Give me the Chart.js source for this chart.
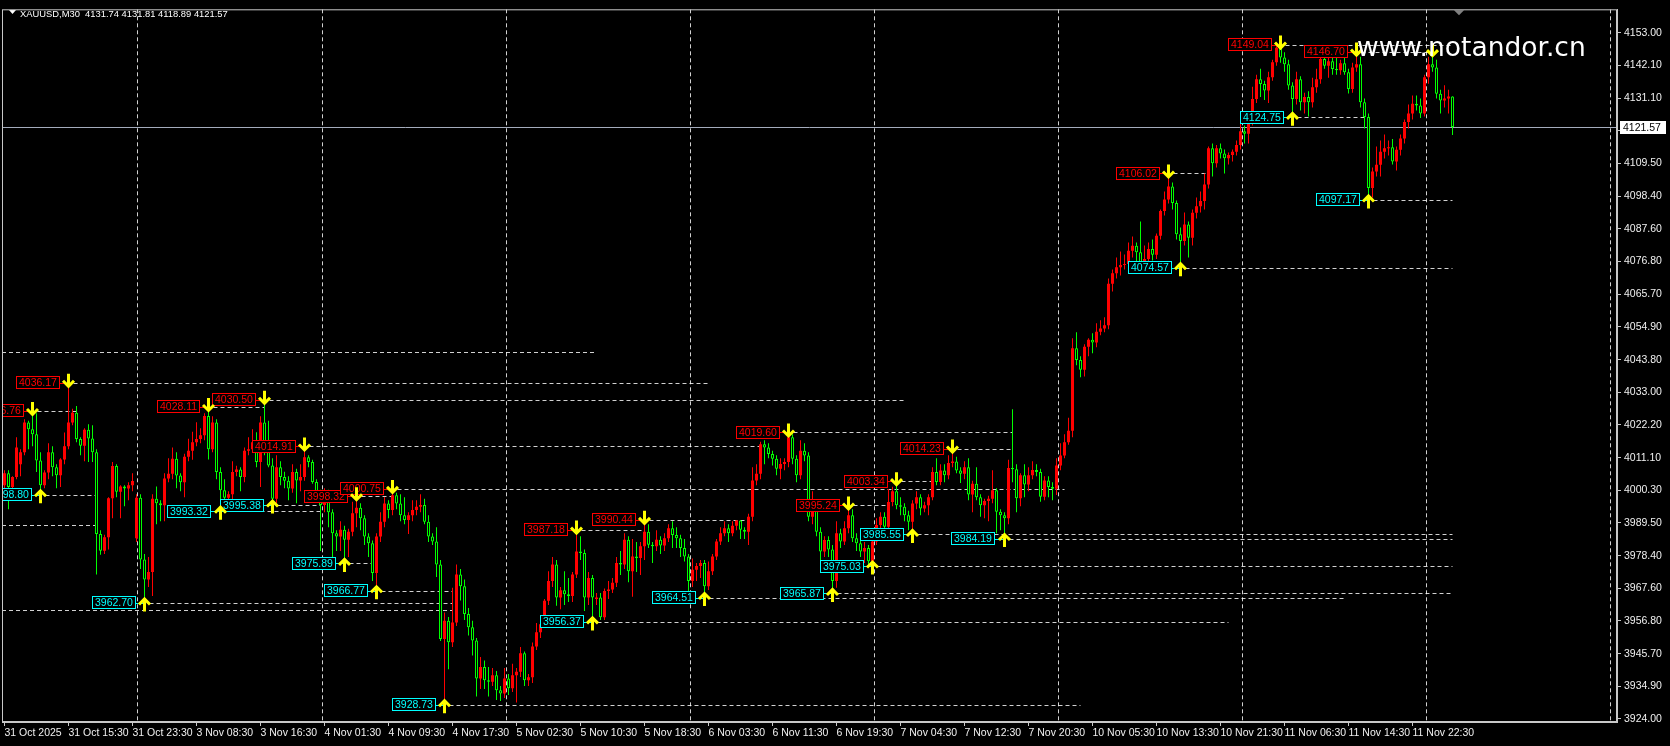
<!DOCTYPE html>
<html>
<head>
<meta charset="UTF-8">
<title>XAUUSD,M30</title>
<script src="https://cdn.jsdelivr.net/npm/chart.js@4.4.1/dist/chart.umd.min.js"></script>
<style>
  html, body { margin: 0; padding: 0; background: #000; overflow: hidden; }
  #wrap { width: 1670px; height: 746px; }
</style>
</head>
<body>
<div id="wrap"><canvas id="chart" width="1670" height="746"></canvas></div>
<script>
// candles [open, high, low, close], one array per trading day (M30)
const oct31 = [
  [4002,4007,3999,4006],[4006,4007,3994,4001.4],[4001.4,4005,3999.8,4004.7],[4004.7,4018,4004,4014.6],
  [4009,4014,4005,4013],[4013,4024,4012,4022.9],[4022.9,4023.5,4014,4020.7],[4020.7,4026.76,4015,4019],
  [4019,4026,4006.4,4010.2],[4010.2,4013,3998.8,4002],[4002,4007,4001,4006.2],[4006.2,4016,4004,4013],
  [4013,4015,4005,4008],[4008,4009,4001,4005.3],[4005.3,4011,4001.4,4010.6],[4010.6,4019.6,4009,4015],
  [4015,4036.17,4014,4022.9],[4022.9,4027.5,4022,4026.2],[4026.2,4028.4,4016.3,4017.4],[4017.4,4018,4012,4015.2],
  [4015.2,4021,4010,4020.5],[4020.5,4022.3,4009.7,4017.6],[4017.6,4022,4009.7,4013],[4013,4014,3972.2,3985.7],
  [3985.7,3987,3978.8,3980.1],[3980.1,3985.5,3979,3984.6],[3984.6,3998,3980.5,3997.6],[3997.6,4009.7,3991,4008.4],
  [4008.4,4009,3998,3999.8],[3999.8,4002,3991,4001.6],[4001.6,4002,3995,4000.9],[4000.9,4003,3997,4002],
  [4002,4006,4000,4003.4]
];
const nov3 = [
  [3984.3,3999,3983,3997.8],[3997.8,3999,3974,3977.2],[3977.2,3979,3962.7,3970.5],[3970.5,3978,3968,3973],
  [3973,3999,3965,3997.5],[3997.5,4001.6,3989,3996],[3996,3997,3990,3995.3],[3995.3,4006,3990,4004.2],
  [4004.2,4011,4003,4005.8],[4005.8,4014.6,4004,4010.8],[4010.8,4013,4001,4005.2],[4005.2,4006,4000,4003],
  [4003,4012.5,3998,4011.5],[4011.5,4017.5,4010,4013.5],[4013.5,4019.8,4010.5,4016.3],[4016.3,4023,4015,4017.4],
  [4017.4,4021,4016,4018.7],[4018.7,4026,4017,4025.1],[4025.1,4028.11,4010.6,4014],[4014,4025,4013,4022.9],
  [4022.9,4024,4004,4006.4],[4006.4,4008,3993.32,4000.3],[4000.3,4004,3996,3997.8],[3997.8,4000,3995,3999],
  [3999,4010,3996,4006.4],[4006.4,4008.5,4005,4007.2],[4007.2,4008,4000,4004.7],[4004.7,4014.6,4003,4013.5],
  [4013.5,4018,4012,4014],[4014,4020.7,4013,4016.3],[4016.3,4019.7,4008,4009.7],[4009.7,4025,4001.4,4022.9],
  [4022.9,4030.5,4012,4015.2],[4015.2,4023.5,4008,4008.6],[4008.6,4011,3995.38,3997.5],[3997.5,4012,3996,4008],
  [4008,4010,4002,4004.7],[4004.7,4006.5,4001,4003.5],[4003.5,4005,3997,4000.9],[4000.9,4009,3999.5,4006.4],
  [4006.4,4007.5,3996,4003.6],[4003.6,4009,4000,4004.7],[4004.7,4014.91,4003.5,4011.3],[4011.3,4012,4008,4009.7],
  [4009.7,4010.5,4002.5,4003.1],[4003.1,4004,3998,3999.8]
];
const nov4 = [
  [3999.8,4000.5,3980,3995.4],[3995.4,4001,3993,3999.8],[3999.8,4000.5,3988,3993],[3993,3994,3978,3986],
  [3986,3987,3980,3984.9],[3984.9,3990,3980,3987.1],[3987.1,3988.5,3975.89,3983.8],[3983.8,3987.5,3978,3986.5],
  [3986.5,3996.5,3985,3992.6],[3992.6,3998.32,3988,3994.5],[3994.5,3996,3987,3991],[3991,3992,3982,3984.9],
  [3984.9,3986,3978,3982.6],[3982.6,3983.5,3970,3972.7],[3972.7,3986,3966.77,3984.9],[3984.9,3993,3983,3989.8],
  [3989.8,3998,3988,3995.9],[3995.9,3997,3991,3993.7],[3993.7,4000.75,3992,3998.6],[3998.6,3999.5,3994,3995.9],
  [3995.9,3999,3990,3992],[3992,3998,3989,3990.4],[3990.4,3993,3985.7,3992],[3992,3997,3990,3993.7],
  [3993.7,3997,3992,3994.8],[3994.8,3999,3993,3995.4],[3995.4,3997.5,3989,3989.8],[3989.8,3992,3983,3984.9],
  [3984.9,3986,3982,3983.2],[3983.2,3988,3971.4,3975.5],[3975.5,3977,3950,3950.7],[3950.7,3959.5,3928.73,3956.8],
  [3956.8,3958,3940.6,3949.6],[3949.6,3967.8,3948,3956.2],[3956.2,3975.5,3955,3972.2],[3972.2,3974,3963.5,3968.3],
  [3968.3,3970.5,3957,3959],[3959,3961,3951.8,3954.6],[3954.6,3956.8,3945.2,3950.2],[3950.2,3951,3931.5,3937.5],
  [3937.5,3944.7,3934,3941.3],[3941.3,3943.5,3934,3936.9],[3936.9,3941.3,3931.5,3936.4],[3936.4,3941,3935,3938.6],
  [3938.6,3940,3930.3,3933.6],[3933.6,3935,3930,3932.5]
];
const nov5 = [
  [3932.5,3941,3931,3937.5],[3937.5,3939,3932,3934.2],[3934.2,3942.4,3933,3938.6],[3938.6,3941,3929.5,3939.7],
  [3939.7,3948,3938,3945.9],[3945.9,3946.5,3935,3936.9],[3936.9,3939,3935,3937.9],[3937.9,3949.5,3936,3948.2],
  [3948.2,3956,3947,3952.9],[3952.9,3957,3951,3955.6],[3955.6,3964,3955,3963.4],[3963.4,3973.3,3962,3970],
  [3970,3978,3968,3975.5],[3975.5,3977,3961.8,3964.5],[3964.5,3968,3960.6,3966.9],[3966.9,3973.3,3962,3965.6],
  [3965.6,3971,3963,3965],[3965,3973,3963,3972.2],[3972.2,3987.18,3971,3979.9],[3979.9,3985,3977,3979.4],
  [3979.4,3980.5,3960,3964.5],[3964.5,3973,3962,3971],[3971,3972,3956.37,3964.5],[3964,3966,3962,3964.5],
  [3964.5,3966,3957,3957.9],[3957.9,3967.5,3957,3966.7],[3966.7,3970,3964,3967.2],[3967.2,3971,3966,3969.4],
  [3969.4,3978,3968,3976],[3976,3980,3972,3975.5],[3975.5,3986,3974,3983.8],[3983.8,3985,3969.6,3973.3],
  [3973.3,3984,3964.8,3978.2],[3978.2,3983,3973,3977.7],[3977.7,3983,3972,3981.6],[3981.6,3990.44,3977,3986.5],
  [3986.5,3989,3981,3982.1],[3982.1,3983,3976,3981.6],[3981.6,3987,3980,3983.8],[3983.8,3985,3979,3981.9],
  [3981.9,3986,3980,3984.3],[3984.3,3989,3983,3987.6],[3987.6,3990,3981,3985.4],[3985.4,3988,3981,3984.3],
  [3984.3,3985.5,3978,3981],[3981,3984,3976.5,3978.2]
];
const nov6 = [
  [3978.2,3979,3966,3970],[3970,3977.5,3968,3973.8],[3973.8,3976,3970,3975],[3975,3977,3971,3976],
  [3976,3977,3964.51,3968.3],[3968.3,3976.5,3967,3973.3],[3973.3,3979,3972,3978.2],[3978.2,3984,3977,3983.2],
  [3983.2,3988,3982,3986],[3986,3990,3985,3987.6],[3987.6,3989,3983,3986],[3986,3990,3985,3988.5],
  [3988.5,3990.3,3987,3990.2],[3990.2,3990.4,3984,3987.1],[3987.1,3988,3984,3986.5],[3986.5,3992.5,3982,3991.5],
  [3991.5,4008,3990,4003.6],[4003.6,4009,4002,4005.8],[4005.8,4016.5,4004,4015.7],[4015.7,4017,4009,4014.6],
  [4014.6,4016,4011,4012.4],[4012.4,4013.5,4008.6,4010.8],[4010.8,4012,4005.3,4007.5],[4007.5,4011,4004,4009.1],
  [4009.1,4011,4007,4009.7],[4009.7,4019.6,4008,4018],[4018,4019,4009,4010.8],[4010.8,4012,4003,4005.3],
  [4005.3,4017,4004,4013.5],[4013.5,4016,4010,4011.9],[4011.9,4013,3990,3991.5],[3991.5,4000,3989,3995.3],
  [3995.3,3996,3985,3986.5],[3986.5,3988,3977,3979.9],[3979.9,3985,3978,3983.7],[3983.7,3985,3978,3980.5],
  [3980.5,3982,3965.87,3970],[3970,3990,3967.8,3986],[3986,3987.5,3981,3983.2],[3983.2,3990,3982,3987.6],
  [3987.6,3995.24,3986,3992],[3992,3994,3983,3984.3],[3984.3,3986,3980,3982.6],[3982.6,3984,3978,3979.9],
  [3979.9,3983,3976,3981],[3981,3982,3975.5,3976.6]
];
const nov7 = [
  [3976.6,3984.5,3975.03,3983.2],[3983.2,3991,3982,3988.7],[3988.7,3993,3987,3991.5],[3991.5,3993,3985,3988.1],
  [3988.1,4000.7,3986,3996.4],[3996.4,4001.5,3995,4000],[4000,4003.34,3994,3995.3],[3995.3,3998,3992,3994.8],
  [3994.8,3996,3990,3992],[3992,3993.5,3987,3989.8],[3989.8,3997,3985.55,3995.9],[3995.9,4000,3994,3998],
  [3998,3999,3992,3994.2],[3994.2,3996.5,3993,3995.3],[3995.3,3999,3992,3998],[3998,4008,3997,4006.4],
  [4006.4,4011,4002,4003.1],[4003.1,4009,4002,4006.9],[4006.9,4009,4003,4005.3],[4005.3,4012,4004,4009.4],
  [4009.4,4014.23,4008,4009.9],[4009.9,4011.5,4006,4006.9],[4006.9,4008,4002.7,4005.8],[4005.8,4010,4004,4008],
  [4008,4011,3997,3998.9],[3998.9,4003.5,3993,4002.5],[4002.5,4008,3997,3998],[3998,3999,3991.5,3995.3],
  [3995.3,3997.5,3991,3996.7],[3996.7,3998.5,3990,3997.5],[3997.5,4007,3996,4000.3],[4000.3,4001,3986,3993.1],
  [3993.1,3994,3987,3992],[3992,3993,3984.19,3991],[3991,4010.5,3989,4007.7],[4007.7,4027.3,4003,4007.3],
  [4007.3,4009,3993,3997.6],[3997.6,4006,3995,4005.3],[4005.3,4009,3998,4002.2],[4002.2,4008,4000,4005.3],
  [4005.3,4010,4004,4007.1],[4007.1,4009,4005,4006.4],[4006.4,4007.5,3996.5,3998.1],[3998.1,4005,3997,4003.6],
  [4003.6,4005,3998,4001.4],[4001.4,4003,3997,4000.8]
];
const nov10 = [
  [4000.8,4011,3998.7,4008.6],[4008.6,4016,4007,4011.9],[4011.9,4019,4011,4016.3],[4016.3,4024.5,4015.5,4020.2],
  [4020.2,4051,4018,4047.7],[4047.7,4053,4042,4043.8],[4043.8,4045,4038,4040.5],[4040.5,4049,4038.3,4048.2],
  [4048.2,4051,4045,4050.5],[4050.5,4052.7,4046,4049.6],[4049.6,4056,4048,4053.2],[4053.2,4057,4052,4054.3],
  [4054.3,4058,4053,4055.4],[4055.4,4071,4054,4069.2],[4069.2,4074,4066.6,4072.7],[4072.7,4078,4071,4074.7],
  [4074.7,4080,4072,4075.5],[4075.5,4079,4074,4075.8],[4075.8,4083,4074.6,4080.2],[4080.2,4085,4078,4081.9],
  [4081.9,4083,4075,4079.7],[4079.7,4090,4075,4076.4],[4076.4,4082,4075,4077.5],[4077.5,4083,4076,4080.8],
  [4080.8,4084,4077,4078.9],[4078.9,4086,4077.5,4085.2],[4085.2,4094,4084,4093.5],[4093.5,4100,4092,4097.3],
  [4097.3,4106.02,4096,4101.7],[4101.7,4103,4094,4096.2],[4096.2,4097,4084,4085.7],[4085.7,4088,4074.57,4083.5],
  [4083.5,4093,4082,4089],[4089,4090,4078,4084.6],[4084.6,4094,4082,4092.9],[4092.9,4098,4091,4095.1],
  [4095.1,4100,4093,4096.8],[4096.8,4106,4094,4102.3],[4102.3,4115,4101,4114.4],[4114.4,4116,4105,4109.4],
  [4109.4,4115.5,4108,4114.4],[4114.4,4116,4111,4112.7],[4112.7,4114,4106,4111.1],[4111.1,4113,4109,4112.2],
  [4112.2,4114,4110,4113.3],[4113.3,4117,4112,4115.5]
];
const nov11 = [
  [4115.5,4122.7,4114,4120.1],[4120.1,4122,4116,4119.3],[4119.3,4124,4116,4123.2],[4123.2,4135,4122,4130.9],
  [4130.9,4139,4129.5,4137.5],[4137.5,4141,4131.5,4135.9],[4135.9,4137,4130.5,4133.7],[4133.7,4140,4129.5,4138.1],
  [4138.1,4144,4137,4143.1],[4143.1,4148.5,4142,4148],[4148,4149.04,4143,4144.7],[4144.7,4146.5,4140,4142.5],
  [4142.5,4144,4134,4135.4],[4135.4,4136.5,4124.75,4130.9],[4130.9,4140,4129,4137.5],[4137.5,4138.5,4127,4129.8],
  [4129.8,4133,4126,4131.5],[4131.5,4133.5,4125,4129.8],[4129.8,4138,4128,4134.8],[4134.8,4141,4133,4137.5],
  [4137.5,4146,4136,4144.2],[4144.2,4146,4141,4142],[4142,4145,4138,4143.5],[4143.5,4145.5,4139,4140.9],
  [4140.9,4145,4139,4140.5],[4140.5,4144,4139,4142.8],[4142.8,4146,4139,4139.8],[4139.8,4141,4132.7,4134.2],
  [4134.2,4143,4133,4141.4],[4141.4,4146.7,4140,4142.5],[4142.5,4145,4128,4129.8],[4129.8,4131,4121,4124.9],
  [4124.9,4126,4097.17,4101.2],[4101.2,4108,4098,4106.7],[4106.7,4115,4105,4108.9],[4108.9,4117,4105,4113.3],
  [4113.3,4119,4111,4114.4],[4114.4,4117,4112,4114.8],[4114.8,4117.5,4109,4110],[4110,4115,4107,4113.9],
  [4113.9,4119,4112,4117.7],[4117.7,4124,4116,4123.2],[4123.2,4129,4121,4126],[4126,4132,4124,4129.3],
  [4129.3,4132,4127,4128.7],[4128.7,4131,4124.5,4126]
];
const nov12 = [
  [4126,4139,4125,4138.1],[4138.1,4145,4136,4142.5],[4142.5,4146.5,4140,4141.4],[4141.4,4144,4131,4132.6],
  [4132.6,4134,4126,4130.4],[4130.4,4135.5,4128,4131],[4131,4134,4126,4131.74],[4131.74,4131.81,4118.89,4121.57]
];

// time axis labels (every 16 bars) and price axis labels
const labelBars = [0,16,32,48,64,80,96,112,128,144,160,176,192,208,224,240,256,272,288,304,320,336,352];
const timeLabels = ['31 Oct 2025','31 Oct 15:30','31 Oct 23:30','3 Nov 08:30','3 Nov 16:30','4 Nov 01:30',
  '4 Nov 09:30','4 Nov 17:30','5 Nov 02:30','5 Nov 10:30','5 Nov 18:30','6 Nov 03:30','6 Nov 11:30',
  '6 Nov 19:30','7 Nov 04:30','7 Nov 12:30','7 Nov 20:30','10 Nov 05:30','10 Nov 13:30','10 Nov 21:30',
  '11 Nov 06:30','11 Nov 14:30','11 Nov 22:30'];
const priceTicks = [4153.00,4142.10,4131.10,4120.30,4109.50,4098.40,4087.60,4076.80,4065.70,4054.90,4043.80,
  4033.00,4022.20,4011.10,4000.30,3989.50,3978.40,3967.60,3956.80,3945.70,3934.90,3924.00];
const gridBars = [33.2,79.3,125.3,171.3,217.3,263.3,309.3,355.3,401.4];

// swing highs / lows found by the indicator, with the bar where each level line stops
const highBars = [7,16,51,65,75,88,97,143,160,196,211,223,237,291,319,338];
const highVals = [4026.76,4036.17,4028.11,4030.50,4014.91,3998.32,4000.75,3987.18,3990.44,4019.60,3995.24,4003.34,4014.23,4106.02,4149.04,4146.70];
const highEnds = [18,176,65,225,190,97,265,160,186,252,221,232,252,301,362,356];
const lowBars = [9,35,54,67,85,93,110,147,175,207,217,227,250,294,322,341];
const lowVals = [3998.80,3962.70,3993.32,3995.38,3975.89,3966.77,3928.73,3956.37,3964.51,3965.87,3975.03,3985.55,3984.19,4074.57,4124.75,4097.17];
const lowEnds = [23,112,79,79,92,112,269,306,335,362,362,362,362,362,340,362];
const openHighBar = 357, openHighVal = 4146.5;          // last arrow, no tag
const oldLevelVals = [4046.4,3988.7,3960.2];            // lines from swings left of the window
const oldLevelEnds = [148,23,112];
const lastPrice = 4121.57;
const header = 'XAUUSD,M30  4131.74 4131.81 4118.89 4121.57';

const candles = [].concat(oct31, nov3, nov4, nov5, nov6, nov7, nov10, nov11, nov12);
const up = candles.map(c => c[3] >= c[0]);

const RED = '#ff0000', GREEN = '#00ff00', CYAN = '#00ffff', YELLOW = '#ffff00';
const FRAME = '#c8c8c8', TEXT = '#f0f0f0', DASH = 'rgba(255,255,255,0.82)';
const FONT = '"Liberation Sans", Arial, sans-serif';

function tag(ctx, text, bx, py, color) {
  ctx.font = '10.5px ' + FONT;
  const w = Math.round(ctx.measureText(text).width) + 6;
  const right = Math.round(bx - 9);
  const left = right - w;
  const top = Math.round(py - 6.5);
  const ly = Math.round(py) + 0.5;
  ctx.strokeStyle = color;
  ctx.lineWidth = 1;
  ctx.beginPath(); ctx.moveTo(right, ly); ctx.lineTo(bx, ly); ctx.stroke();
  ctx.fillStyle = '#000';
  ctx.fillRect(left, top, w, 13);
  ctx.strokeRect(left + 0.5, top + 0.5, w - 1, 12);
  ctx.fillStyle = color;
  ctx.textAlign = 'left';
  ctx.textBaseline = 'middle';
  ctx.fillText(text, left + 3, top + 7);
}

function arrow(ctx, cx, tipY, dir) {
  // dir 1: pointing down, -1: pointing up
  ctx.strokeStyle = YELLOW;
  ctx.lineWidth = 3;
  ctx.lineCap = 'butt';
  ctx.lineJoin = 'miter';
  ctx.beginPath();
  ctx.moveTo(cx, tipY - dir * 14); ctx.lineTo(cx, tipY - dir * 1.5);
  ctx.moveTo(cx - 5.5, tipY - dir * 7); ctx.lineTo(cx, tipY - dir * 1.5); ctx.lineTo(cx + 5.5, tipY - dir * 7);
  ctx.stroke();
}

const overlay = {
  id: 'mt4overlay',
  beforeDatasetsDraw(chart) {
    const { ctx, chartArea: a, scales: { x, y } } = chart;
    ctx.save();
    ctx.beginPath(); ctx.rect(a.left, a.top, a.right - a.left, a.bottom - a.top); ctx.clip();
    ctx.lineWidth = 1;
    ctx.strokeStyle = DASH;
    ctx.setLineDash([4, 3]);
    gridBars.forEach(b => {
      const px = Math.round(x.getPixelForValue(b)) + 0.5;
      ctx.beginPath(); ctx.moveTo(px, a.top); ctx.lineTo(px, a.bottom); ctx.stroke();
    });
    const level = (p, x0, e) => {
      const py = Math.round(y.getPixelForValue(p)) + 0.5;
      ctx.beginPath(); ctx.moveTo(x0, py); ctx.lineTo(x.getPixelForValue(e), py); ctx.stroke();
    };
    oldLevelVals.forEach((p, i) => level(p, a.left, oldLevelEnds[i]));
    highVals.forEach((p, i) => level(p, x.getPixelForValue(highBars[i]) + 5, highEnds[i]));
    lowVals.forEach((p, i) => level(p, x.getPixelForValue(lowBars[i]) + 5, lowEnds[i]));
    ctx.setLineDash([]);
    ctx.strokeStyle = '#a4acbc';
    const ly = Math.round(y.getPixelForValue(lastPrice)) + 0.5;
    ctx.beginPath(); ctx.moveTo(a.left, ly); ctx.lineTo(a.right, ly); ctx.stroke();
    ctx.restore();
  },
  afterDatasetsDraw(chart) {
    const { ctx, chartArea: a, scales: { x, y } } = chart;
    ctx.save();
    ctx.beginPath(); ctx.rect(a.left, a.top, a.right - a.left, a.bottom - a.top); ctx.clip();
    highVals.forEach((p, i) => {
      const bx = x.getPixelForValue(highBars[i]), py = y.getPixelForValue(p);
      tag(ctx, p.toFixed(2), bx, py, RED);
    });
    lowVals.forEach((p, i) => {
      const bx = x.getPixelForValue(lowBars[i]), py = y.getPixelForValue(p);
      tag(ctx, p.toFixed(2), bx, py, CYAN);
    });
    highVals.forEach((p, i) => arrow(ctx, x.getPixelForValue(highBars[i]), y.getPixelForValue(p) + 5, 1));
    arrow(ctx, x.getPixelForValue(openHighBar), y.getPixelForValue(openHighVal) + 5, 1);
    lowVals.forEach((p, i) => arrow(ctx, x.getPixelForValue(lowBars[i]), y.getPixelForValue(p) - 5.5, -1));

    // watermark
    ctx.fillStyle = '#ffffff';
    ctx.font = '26.5px "DejaVu Sans", sans-serif';
    ctx.textAlign = 'left';
    ctx.textBaseline = 'alphabetic';
    ctx.fillText('www.notandor.cn', 1357, 56);

    // header
    ctx.beginPath(); ctx.moveTo(9, 10); ctx.lineTo(16, 10); ctx.lineTo(12.5, 14); ctx.closePath(); ctx.fill();
    ctx.font = '9.4px ' + FONT;
    ctx.fillText(header, 20, 16.5);

    // chart shift marker
    ctx.fillStyle = '#808080';
    ctx.beginPath(); ctx.moveTo(1454, a.top + 1); ctx.lineTo(1464, a.top + 1); ctx.lineTo(1459, a.top + 6); ctx.closePath(); ctx.fill();
    ctx.restore();
  },
  afterDraw(chart) {
    const { ctx, chartArea: a, scales: { y } } = chart;
    ctx.save();
    ctx.strokeStyle = FRAME;
    ctx.lineWidth = 1;
    ctx.strokeRect(a.left + 0.5, a.top + 0.5, a.right - a.left - 1, a.bottom - a.top - 1);
    const py = Math.round(y.getPixelForValue(lastPrice));
    ctx.fillStyle = '#ffffff';
    ctx.fillRect(a.right + 3, py - 6, 46, 13);
    ctx.fillStyle = '#000';
    ctx.font = '10.5px ' + FONT;
    ctx.textAlign = 'left';
    ctx.textBaseline = 'middle';
    ctx.fillText(lastPrice.toFixed(2), a.right + 6, py + 1);
    ctx.restore();
  }
};

Chart.defaults.font.family = FONT;

new Chart(document.getElementById('chart').getContext('2d'), {
  type: 'bar',
  data: {
    datasets: [
      {
        label: 'body',
        data: candles.map((c, i) => ({ x: i, y: [c[0], c[3]] })),
        backgroundColor: up.map(u => u ? RED : '#000000'),
        borderColor: up.map(u => u ? RED : GREEN),
        borderWidth: up.map(u => u ? 0 : 1),
        borderSkipped: false,
        barThickness: 3,
        minBarLength: 1,
        grouped: false,
        inflateAmount: 0
      },
      {
        label: 'wick',
        data: candles.map((c, i) => ({ x: i, y: [c[2], c[1]] })),
        backgroundColor: up.map(u => u ? RED : GREEN),
        borderWidth: 0,
        barThickness: 1,
        grouped: false,
        inflateAmount: 0
      }
    ]
  },
  options: {
    responsive: false,
    animation: false,
    events: [],
    layout: { padding: { left: 2, top: 3, right: 0, bottom: 0 } },
    plugins: { legend: { display: false }, tooltip: { enabled: false } },
    scales: {
      x: {
        type: 'linear',
        min: -0.625,
        max: 403.125,
        offset: false,
        afterBuildTicks: s => { s.ticks = labelBars.map(v => ({ value: v })); },
        afterFit: s => { s.height = 24; },
        grid: { display: true, drawOnChartArea: false, drawTicks: true, tickLength: 4, color: FRAME, offset: false },
        border: { display: true, color: FRAME },
        ticks: {
          autoSkip: false, maxRotation: 0, minRotation: 0, align: 'start', padding: 1,
          color: TEXT, font: { size: 10.5 },
          callback: (v, i) => timeLabels[i]
        }
      },
      y: {
        type: 'linear',
        position: 'right',
        min: 3922.972,
        max: 4160.807,
        afterBuildTicks: s => { s.ticks = priceTicks.map(v => ({ value: v })); },
        afterFit: s => { s.width = 53; },
        grid: { display: true, drawOnChartArea: false, drawTicks: true, tickLength: 4, color: FRAME },
        border: { display: true, color: FRAME },
        ticks: { padding: 3, color: TEXT, font: { size: 10.5 }, callback: v => Number(v).toFixed(2) }
      }
    }
  },
  plugins: [overlay]
});
</script>
</body>
</html>
